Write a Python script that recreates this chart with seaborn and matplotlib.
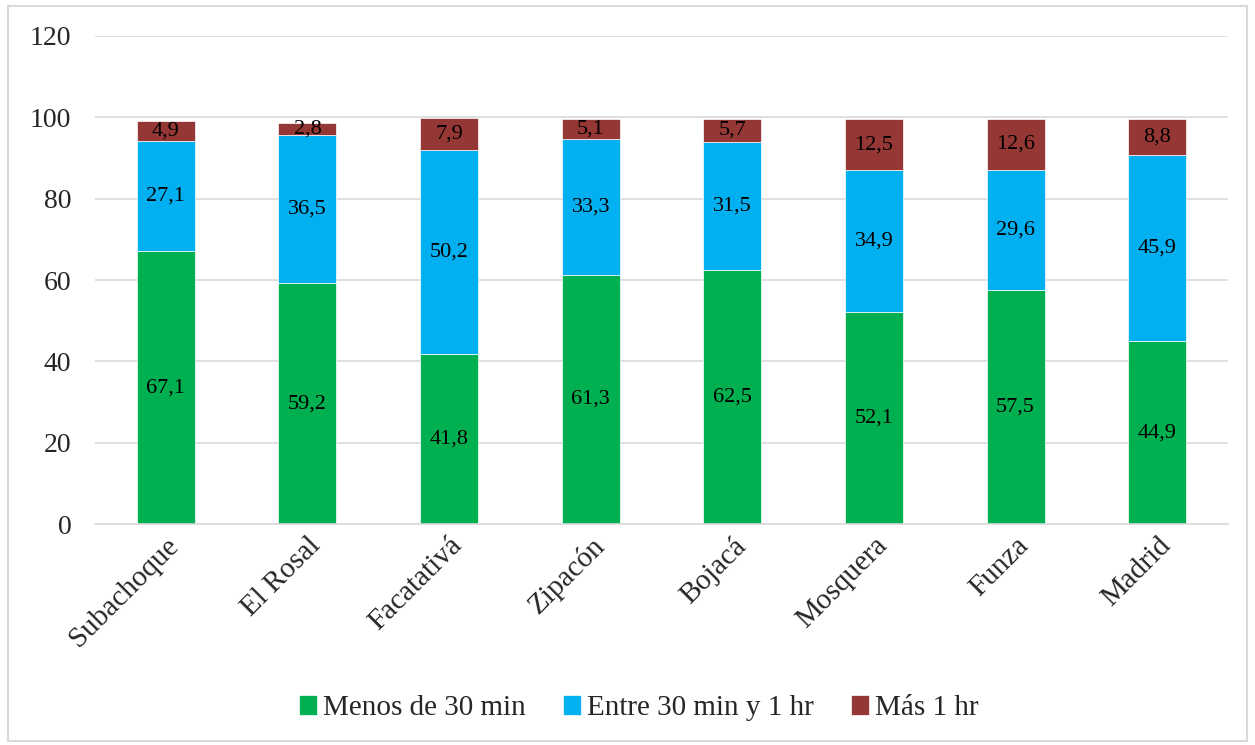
import matplotlib
matplotlib.use("Agg")
import matplotlib.pyplot as plt
from matplotlib.patches import Rectangle
import seaborn as sns

# Data
municipios = ["Subachoque", "El Rosal", "Facatativá", "Zipacón",
              "Bojacá", "Mosquera", "Funza", "Madrid"]
menos_30 = [67.1, 59.2, 41.8, 61.3, 62.5, 52.1, 57.5, 44.9]
entre_30_1 = [27.1, 36.5, 50.2, 33.3, 31.5, 34.9, 29.6, 45.9]
mas_1 = [4.9, 2.8, 7.9, 5.1, 5.7, 12.5, 12.6, 8.8]

series = [
    ("Menos de 30 min", menos_30, "#00B050"),
    ("Entre 30 min y 1 hr", entre_30_1, "#00B0F0"),
    ("Más 1 hr", mas_1, "#953735"),
]

sns.set_style("white")
plt.rcParams['font.family'] = ['Liberation Serif', 'DejaVu Serif']

fig = plt.figure(figsize=(12.55, 7.45), dpi=100)
ax = fig.add_axes([0.0757, 0.2966, 0.9028, 0.6551])

# stacked bars, one barplot call per series
bottom = [0.0] * len(municipios)
for name, vals, col in series:
    sns.barplot(x=municipios, y=vals, bottom=bottom, color=col, width=0.41,
                label=name, errorbar=None, saturation=1, linewidth=0.5,
                edgecolor="white", ax=ax)
    bottom = [b + v for b, v in zip(bottom, vals)]

for cont, (name, vals, col) in zip(ax.containers, series):
    ax.bar_label(cont, labels=[f"{v:.1f}".replace(".", ",") for v in vals],
                 label_type="center", fontsize=16, color="black")

ax.set_ylim(0, 120)
ax.set_xlim(-0.5, 7.5)
ax.set_yticks(range(0, 121, 20))
ax.yaxis.grid(True, color="#D9D9D9", linewidth=1.2)
ax.set_axisbelow(True)
for s in ["top", "right", "left"]:
    ax.spines[s].set_visible(False)
ax.spines["bottom"].set_color("#D9D9D9")
ax.spines["bottom"].set_linewidth(1.2)
ax.tick_params(axis="x", length=0, labelsize=21, pad=6)
ax.tick_params(axis="y", length=0, labelsize=20, pad=17)
plt.setp(ax.get_xticklabels(), rotation=45, ha="right", rotation_mode="anchor")
ax.set_xlabel("")
ax.set_ylabel("")

handles, labels = ax.get_legend_handles_labels()
if ax.legend_:
    ax.legend_.remove()
fig.legend(handles, labels, loc="center", bbox_to_anchor=(0.509, 0.05), ncol=3,
           frameon=False, fontsize=21, handlelength=0.6, handleheight=0.7,
           handletextpad=0.2, columnspacing=1.3)

# light grey frame around the whole chart
fig.patches.append(Rectangle((0.006, 0.006), 0.988, 0.986, transform=fig.transFigure,
                             fill=False, edgecolor="#D9D9D9", linewidth=1.5))

fig.savefig("out.png", dpi=100)
